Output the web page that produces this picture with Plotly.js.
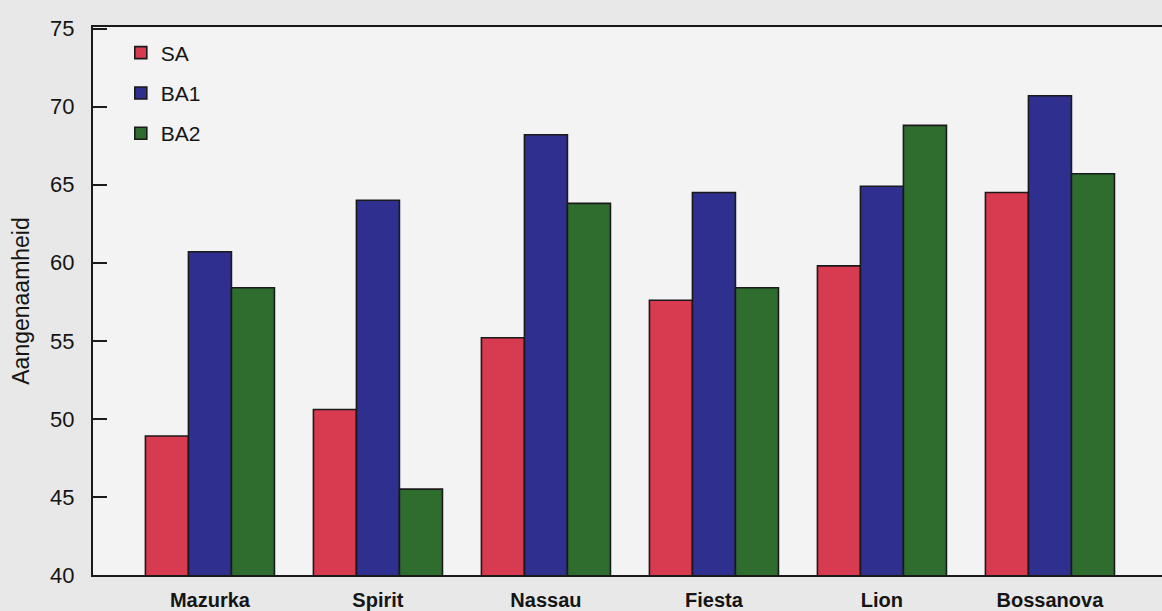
<!DOCTYPE html>
<html>
<head>
<meta charset="utf-8">
<script src="https://cdn.plot.ly/plotly-3.0.1.min.js"></script>
<style>html,body{margin:0;padding:0;background:#e8e8e8;}#chart{width:1162px;height:611px;}</style>
</head>
<body>
<div id="chart"></div>
<script>
const categories = ["Mazurka", "Spirit", "Nassau", "Fiesta", "Lion", "Bossanova"];
const seriesNames = ["SA", "BA1", "BA2"];
const SA  = [48.9, 50.6, 55.2, 57.6, 59.8, 64.5];
const BA1 = [60.7, 64.0, 68.2, 64.5, 64.9, 70.7];
const BA2 = [58.4, 45.5, 63.8, 58.4, 68.8, 65.7];
const yTicks = [40, 45, 50, 55, 60, 65, 70, 75];
const colors = ["#d83a50", "#2e2f8e", "#2f6d2f"];

const values = [SA, BA1, BA2];
const traces = values.map((v, i) => ({
  type: "bar",
  name: seriesNames[i],
  x: categories,
  y: v,
  legendgroup: "g" + i,
  marker: {color: colors[i], line: {color: "#1a1a1a", width: 1.6}}
}));

const FONT = "Liberation Sans, Arial, sans-serif";
const layout = {
  width: 1162, height: 611,
  paper_bgcolor: "#e8e8e8",
  plot_bgcolor: "#f3f3f3",
  margin: {l: 93, r: 0, t: 27, b: 36},
  barmode: "group",
  bargap: 0.232,
  bargroupgap: 0,
  showlegend: true,
  legend: {
    x: 0.026, y: 0.99, xanchor: "left", yanchor: "top",
    bgcolor: "rgba(0,0,0,0)",
    font: {family: FONT, size: 21, color: "#151515"},
    traceorder: "grouped",
    tracegroupgap: 10
  },
  xaxis: {
    type: "category",
    range: [-0.696, 5.667],
    showline: true, mirror: true, linecolor: "#1a1a1a", linewidth: 2,
    ticks: "", showgrid: false, zeroline: false,
    tickfont: {family: FONT, size: 20, color: "#151515", weight: "bold"},
    ticklabelstandoff: 6
  },
  yaxis: {
    range: [40, 75.1],
    tickvals: yTicks,
    ticktext: yTicks.map(String),
    ticks: "inside", ticklen: 14, tickwidth: 2, tickcolor: "#1a1a1a",
    showline: true, linecolor: "#1a1a1a", linewidth: 2,
    showgrid: false, zeroline: false,
    tickfont: {family: FONT, size: 22, color: "#151515"},
    ticklabelstandoff: 12,
    title: {text: "Aangenaamheid", font: {family: FONT, size: 23, color: "#151515"}, standoff: 14}
  }
};

Plotly.newPlot("chart", traces, layout, {displayModeBar: false, staticPlot: true});
</script>
</body>
</html>
